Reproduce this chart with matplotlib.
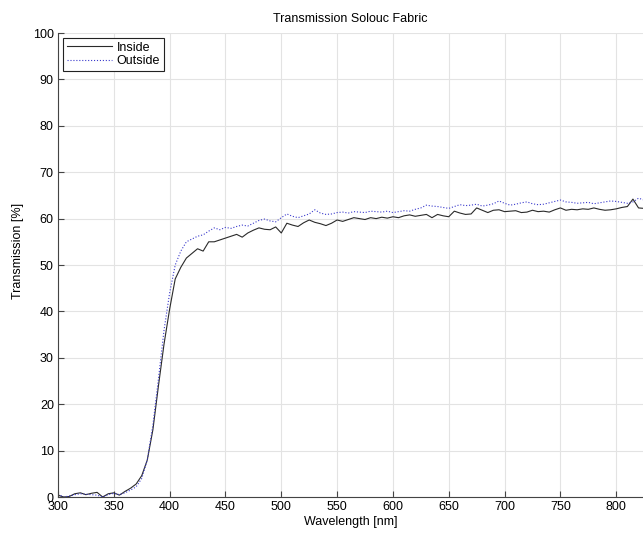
import matplotlib
matplotlib.use("Agg")
import matplotlib.pyplot as plt
import numpy as np

plt.rcParams['font.family'] = ['Liberation Sans', 'DejaVu Sans']

# wavelength grid [nm], 5 nm step
wavelength = np.arange(300, 826, 5)

# transmission [%]
inside = [0.4, 0.0, 0.1, 0.7, 0.9, 0.5, 0.8, 1.0, 0.0, 0.7,
          0.9, 0.4, 1.2, 1.9, 2.8, 4.6, 8.0, 14.5, 24.0, 33.0,
          40.5, 47.0, 49.5, 51.5, 52.5, 53.5, 53.0, 55.0, 55.0, 55.4,
          55.8, 56.2, 56.6, 56.0, 56.9, 57.5, 58.0, 57.7, 57.6, 58.2,
          56.9, 59.0, 58.6, 58.3, 59.1, 59.7, 59.2, 58.9, 58.5, 59.0,
          59.7, 59.4, 59.8, 60.2, 60.0, 59.8, 60.2, 60.0, 60.3, 60.1,
          60.4, 60.2, 60.6, 60.8, 60.5, 60.7, 60.9, 60.2, 60.9, 60.6,
          60.4, 61.6, 61.2, 60.9, 61.0, 62.3, 61.8, 61.3, 61.8, 61.9,
          61.5, 61.6, 61.7, 61.3, 61.4, 61.8, 61.5, 61.6, 61.4, 61.9,
          62.3, 61.8, 62.0, 61.9, 62.1, 62.0, 62.3, 62.0, 61.8, 61.9,
          62.1, 62.4, 62.6, 64.2, 62.3, 62.2]

outside = [0.6, 0.0, 0.2, 0.5, 0.7, 0.6, 0.5, 0.4, 0.0, 0.5,
           0.8, 0.5, 0.9, 1.5, 2.2, 4.0, 8.0, 15.5, 25.5, 36.0,
           44.0, 50.0, 53.0, 55.0, 55.6, 56.2, 56.5, 57.3, 58.0, 57.6,
           58.1, 57.9, 58.3, 58.6, 58.4, 59.0, 59.6, 59.9, 59.5, 59.3,
           60.2, 61.0, 60.5, 60.2, 60.6, 61.0, 61.9, 61.2, 60.9, 61.0,
           61.3, 61.4, 61.2, 61.5, 61.4, 61.3, 61.6, 61.5, 61.4, 61.6,
           61.3, 61.5, 61.7, 61.6, 62.0, 62.3, 62.9, 62.7, 62.6, 62.4,
           62.2, 62.6, 63.0, 62.8, 62.9, 63.1, 62.7, 62.9, 63.2, 63.8,
           63.3, 62.9, 63.1, 63.4, 63.6, 63.2, 63.0, 63.1, 63.4, 63.7,
           64.0, 63.6, 63.5, 63.3, 63.4, 63.5, 63.2, 63.4, 63.6, 63.8,
           63.7, 63.5, 63.3, 63.6, 64.4, 64.0]

x_ticks = np.arange(300, 801, 50)
y_ticks = np.arange(0, 101, 10)

fig = plt.figure(figsize=(6.43, 5.37), dpi=100)
ax = fig.add_axes([58 / 643, 40 / 537, 585 / 643, 464 / 537])

ax.plot(wavelength, inside, color='#2a2a2a', linewidth=0.8, label='Inside')
ax.plot(wavelength, outside, color='#3a3acc', linewidth=0.8, linestyle=':', label='Outside')

ax.set_xlim(300, 824)
ax.set_ylim(0, 100)
ax.set_xticks(x_ticks)
ax.set_yticks(y_ticks)
ax.grid(True, color='#e3e3e3', linewidth=0.8)
ax.set_axisbelow(True)

ax.spines['top'].set_visible(False)
ax.spines['right'].set_visible(False)
ax.spines['left'].set_color('#444444')
ax.spines['bottom'].set_color('#444444')
ax.tick_params(direction='in', length=4, color='#444444', labelsize=9, pad=3)

ax.set_title('Transmission Solouc Fabric', fontsize=9, pad=8)
ax.set_xlabel('Wavelength [nm]', fontsize=9, labelpad=2)
ax.set_ylabel('Transmission [%]', fontsize=9)
ax.yaxis.set_label_coords(-0.058, 0.53)

leg = ax.legend(loc='upper left', fontsize=9, fancybox=False, framealpha=1,
                edgecolor='#222222', borderaxespad=0.4, handlelength=3.6,
                borderpad=0.3, labelspacing=0.1, handletextpad=0.4)
leg.get_frame().set_linewidth(0.8)

fig.savefig('out.png', dpi=100)
